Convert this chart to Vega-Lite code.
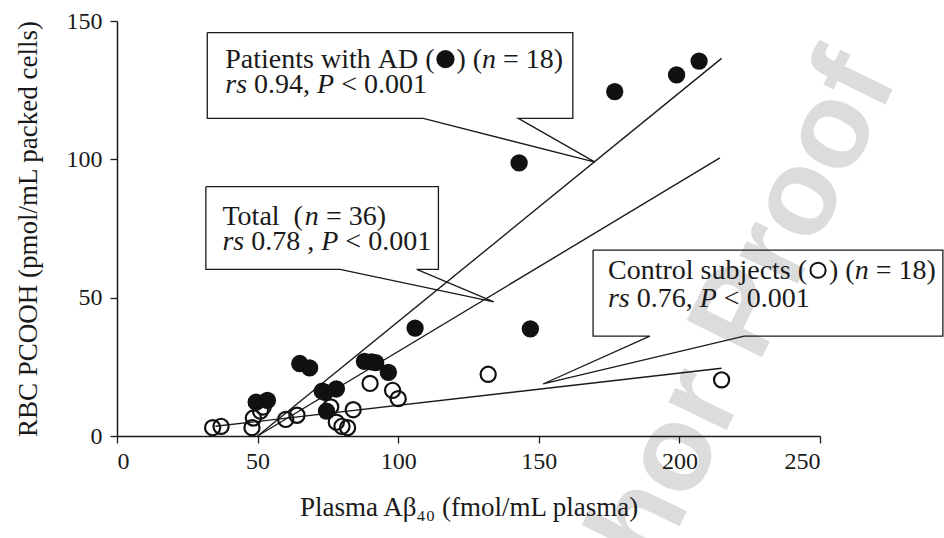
{
  "$schema": "https://vega.github.io/schema/vega-lite/v6.json",
  "width": 703,
  "height": 415,
  "autosize": {"type": "none"},
  "padding": {"left": 117, "top": 21, "right": 124, "bottom": 102},
  "background": "white",
  "config": {
    "view": {"stroke": null},
    "axis": {
      "grid": false,
      "zindex": 1,
      "domainColor": "#1a1a1a",
      "domainWidth": 1.5,
      "tickColor": "#1a1a1a",
      "tickWidth": 1.3,
      "tickSize": 7,
      "labelColor": "#1a1a1a",
      "titleColor": "#1a1a1a",
      "labelFont": "Liberation Serif",
      "titleFont": "Liberation Serif",
      "labelFontSize": 24,
      "titleFontSize": 27,
      "titleFontWeight": "normal"
    }
  },
  "datasets": {
    "pts": [
      {"x": 207, "y": 135.5, "g": "AD"}, {"x": 199, "y": 130.5, "g": "AD"}, {"x": 177, "y": 124.5, "g": "AD"},
      {"x": 143, "y": 98.7, "g": "AD"}, {"x": 106, "y": 39, "g": "AD"}, {"x": 147, "y": 38.7, "g": "AD"},
      {"x": 65, "y": 26.2, "g": "AD"}, {"x": 68.5, "y": 24.6, "g": "AD"}, {"x": 49.5, "y": 12.2, "g": "AD"},
      {"x": 53.5, "y": 12.9, "g": "AD"}, {"x": 73, "y": 16.2, "g": "AD"}, {"x": 78, "y": 17, "g": "AD"},
      {"x": 74.5, "y": 9, "g": "AD"}, {"x": 88, "y": 27, "g": "AD"}, {"x": 92, "y": 26.5, "g": "AD"},
      {"x": 96.5, "y": 23, "g": "AD"}, {"x": 90.5, "y": 26.8, "g": "AD"}, {"x": 74, "y": 15.8, "g": "AD"},
      {"x": 34, "y": 3, "g": "C"}, {"x": 37, "y": 3.5, "g": "C"}, {"x": 48, "y": 3, "g": "C"},
      {"x": 48.5, "y": 6.5, "g": "C"}, {"x": 51, "y": 9, "g": "C"}, {"x": 52, "y": 10.5, "g": "C"},
      {"x": 60, "y": 6, "g": "C"}, {"x": 64, "y": 7.5, "g": "C"}, {"x": 76, "y": 10.5, "g": "C"},
      {"x": 78, "y": 5, "g": "C"}, {"x": 80, "y": 3.5, "g": "C"}, {"x": 82, "y": 3, "g": "C"},
      {"x": 84, "y": 9.5, "g": "C"}, {"x": 90, "y": 19, "g": "C"}, {"x": 98, "y": 16.5, "g": "C"},
      {"x": 100, "y": 13.5, "g": "C"}, {"x": 132, "y": 22.3, "g": "C"}, {"x": 215, "y": 20.3, "g": "C"}
    ],
    "keys": [
      {"x": 116.8, "y": 136.2, "g": "AD"},
      {"x": 249.3, "y": 59.9, "g": "C"}
    ],
    "fits": [
      {"x": 50, "y": 0, "g": "AD"}, {"x": 215, "y": 136.5, "g": "AD"},
      {"x": 50, "y": 0, "g": "Total"}, {"x": 214.4, "y": 100.5, "g": "Total"},
      {"x": 35, "y": 3.5, "g": "C"}, {"x": 215, "y": 24.5, "g": "C"}
    ],
    "boxes": [
      {"b": "AD", "o": 1, "x": 32.1, "y": 145.8}, {"b": "AD", "o": 2, "x": 162.1, "y": 145.8},
      {"b": "AD", "o": 3, "x": 162.1, "y": 114.8}, {"b": "AD", "o": 4, "x": 142.7, "y": 114.8},
      {"b": "AD", "o": 5, "x": 170, "y": 99}, {"b": "AD", "o": 6, "x": 108.9, "y": 114.8},
      {"b": "AD", "o": 7, "x": 32.1, "y": 114.8}, {"b": "AD", "o": 8, "x": 32.1, "y": 145.8},
      {"b": "T", "o": 1, "x": 31.6, "y": 90.1}, {"b": "T", "o": 2, "x": 114.3, "y": 90.1},
      {"b": "T", "o": 3, "x": 114.3, "y": 60.2}, {"b": "T", "o": 4, "x": 106.6, "y": 60.2},
      {"b": "T", "o": 5, "x": 134, "y": 48.5}, {"b": "T", "o": 6, "x": 79.3, "y": 60.2},
      {"b": "T", "o": 7, "x": 31.6, "y": 60.2}, {"b": "T", "o": 8, "x": 31.6, "y": 90.1},
      {"b": "C", "o": 1, "x": 169.3, "y": 67.2}, {"b": "C", "o": 2, "x": 293.7, "y": 67.2},
      {"b": "C", "o": 3, "x": 293.7, "y": 36.1}, {"b": "C", "o": 4, "x": 223, "y": 36.1},
      {"b": "C", "o": 5, "x": 151.5, "y": 18.8}, {"b": "C", "o": 6, "x": 189.5, "y": 36.1},
      {"b": "C", "o": 7, "x": 169.3, "y": 36.1}, {"b": "C", "o": 8, "x": 169.3, "y": 67.2}
    ],
    "texts": [
      {"x": 38.5, "y": 133, "t": "Patients\u00a0with\u00a0AD\u00a0(", "it": false},
      {"x": 120.7, "y": 133, "t": ")\u00a0(", "it": false},
      {"x": 129.82, "y": 133, "t": "n", "it": true},
      {"x": 137.29, "y": 133, "t": "=\u00a018)", "it": false},
      {"x": 38.5, "y": 124, "t": "rs", "it": true},
      {"x": 48.74, "y": 124, "t": "0.94,", "it": false},
      {"x": 71.14, "y": 124, "t": "P", "it": true},
      {"x": 79.71, "y": 124, "t": "<\u00a00.001", "it": false},
      {"x": 37.5, "y": 76.3, "t": "Total\u00a0\u00a0(", "it": false},
      {"x": 66.81, "y": 76.3, "t": "n", "it": true},
      {"x": 74.28, "y": 76.3, "t": "=\u00a036)", "it": false},
      {"x": 37.5, "y": 67.2, "t": "rs", "it": true},
      {"x": 47.74, "y": 67.2, "t": "0.78\u00a0,", "it": false},
      {"x": 72.63, "y": 67.2, "t": "P", "it": true},
      {"x": 81.2, "y": 67.2, "t": "<\u00a00.001", "it": false},
      {"x": 174.6, "y": 56.7, "t": "Control\u00a0subjects\u00a0(", "it": false},
      {"x": 253.2, "y": 56.7, "t": ")\u00a0(", "it": false},
      {"x": 262.32, "y": 56.7, "t": "n", "it": true},
      {"x": 269.79, "y": 56.7, "t": "=\u00a018)", "it": false},
      {"x": 174.6, "y": 46.6, "t": "rs", "it": true},
      {"x": 184.84, "y": 46.6, "t": "0.76,", "it": false},
      {"x": 207.24, "y": 46.6, "t": "P", "it": true},
      {"x": 215.81, "y": 46.6, "t": "<\u00a00.001", "it": false}
    ],
    "wm": [{"x": 207.3, "y": 13, "t": "Author Proof"}]
  },
  "layer": [
    {
      "data": {"name": "wm"},
      "mark": {"type": "text", "font": "Liberation Sans", "fontSize": 122, "fontWeight": "bold", "angle": -64, "color": "#dcdcdc", "align": "center", "baseline": "middle"},
      "encoding": {
        "x": {"field": "x", "type": "quantitative", "scale": {"domain": [0, 250], "nice": false},
              "axis": {"values": [0, 50, 100, 150, 200, 250], "zindex": 2, "labelFont": "Liberation Serif", "labelPadding": 6, "titlePadding": 21, "title": "Plasma Aβ₄₀ (fmol/mL plasma)"}},
        "y": {"field": "y", "type": "quantitative", "scale": {"domain": [0, 150], "nice": false},
              "axis": {"values": [0, 50, 100, 150], "zindex": 2, "labelFont": "Liberation Serif", "labelPadding": 8, "titlePadding": 24, "title": "RBC PCOOH (pmol/mL packed cells)"}},
        "text": {"field": "t"}
      }
    },
    {
      "data": {"name": "boxes"},
      "mark": {"type": "line", "color": "#1a1a1a", "strokeWidth": 1.3, "clip": false},
      "encoding": {
        "x": {"field": "x", "type": "quantitative"},
        "y": {"field": "y", "type": "quantitative"},
        "detail": {"field": "b"},
        "order": {"field": "o", "type": "quantitative"}
      }
    },
    {
      "data": {"name": "fits"},
      "mark": {"type": "line", "color": "#1a1a1a", "strokeWidth": 1.4},
      "encoding": {
        "x": {"field": "x", "type": "quantitative"},
        "y": {"field": "y", "type": "quantitative"},
        "detail": {"field": "g"}
      }
    },
    {
      "data": {"name": "pts"},
      "transform": [{"filter": "datum.g == 'C'"}],
      "mark": {"type": "point", "shape": "circle", "filled": false, "stroke": "#111", "strokeWidth": 2.2, "size": 230, "opacity": 1},
      "encoding": {
        "x": {"field": "x", "type": "quantitative"},
        "y": {"field": "y", "type": "quantitative"}
      }
    },
    {
      "data": {"name": "pts"},
      "transform": [{"filter": "datum.g == 'AD'"}],
      "mark": {"type": "point", "shape": "circle", "filled": true, "fill": "#111", "stroke": null, "size": 300, "opacity": 1},
      "encoding": {
        "x": {"field": "x", "type": "quantitative"},
        "y": {"field": "y", "type": "quantitative"}
      }
    },
    {
      "data": {"name": "keys"},
      "transform": [{"filter": "datum.g == 'AD'"}],
      "mark": {"type": "point", "shape": "circle", "filled": true, "fill": "#111", "stroke": null, "size": 330, "opacity": 1, "clip": false},
      "encoding": {
        "x": {"field": "x", "type": "quantitative"},
        "y": {"field": "y", "type": "quantitative"}
      }
    },
    {
      "data": {"name": "keys"},
      "transform": [{"filter": "datum.g == 'C'"}],
      "mark": {"type": "point", "shape": "circle", "filled": false, "stroke": "#111", "strokeWidth": 2, "size": 230, "opacity": 1, "clip": false},
      "encoding": {
        "x": {"field": "x", "type": "quantitative"},
        "y": {"field": "y", "type": "quantitative"}
      }
    },
    {
      "data": {"name": "texts"},
      "transform": [{"filter": "!datum.it"}],
      "mark": {"type": "text", "font": "Liberation Serif", "fontSize": 28, "align": "left", "baseline": "alphabetic", "color": "#1a1a1a"},
      "encoding": {
        "x": {"field": "x", "type": "quantitative"},
        "y": {"field": "y", "type": "quantitative"},
        "text": {"field": "t"}
      }
    },
    {
      "data": {"name": "texts"},
      "transform": [{"filter": "datum.it"}],
      "mark": {"type": "text", "font": "Liberation Serif", "fontSize": 28, "fontStyle": "italic", "align": "left", "baseline": "alphabetic", "color": "#1a1a1a"},
      "encoding": {
        "x": {"field": "x", "type": "quantitative"},
        "y": {"field": "y", "type": "quantitative"},
        "text": {"field": "t"}
      }
    }
  ]
}
